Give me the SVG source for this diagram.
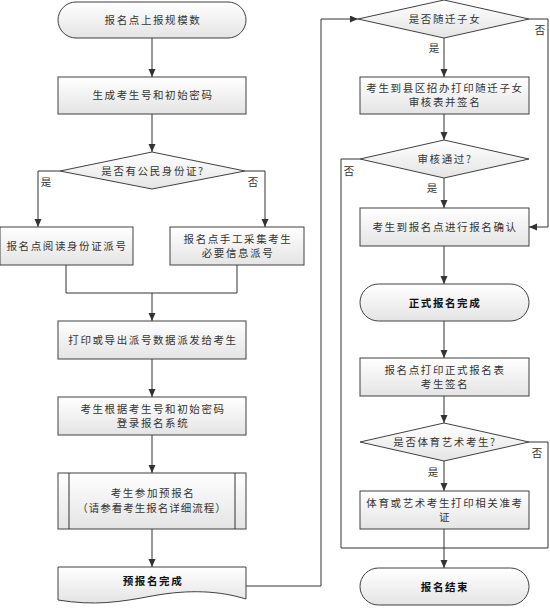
<svg xmlns="http://www.w3.org/2000/svg" width="550" height="608" viewBox="0 0 550 608">
<defs>
<linearGradient id="g" x1="0" y1="0" x2="0" y2="1">
<stop offset="0" stop-color="#ffffff"/>
<stop offset="1" stop-color="#e4e4e4"/>
</linearGradient>
<marker id="a" markerUnits="userSpaceOnUse" markerWidth="9" markerHeight="8" refX="8" refY="3.5" orient="auto">
<path d="M0,0 L8,3.5 L0,7 z" fill="#333"/>
</marker>
<style>
.n{fill:url(#g);stroke:#404040;stroke-width:1}
.c{fill:none;stroke:#333;stroke-width:1}
.ca{fill:none;stroke:#333;stroke-width:1;marker-end:url(#a)}
text{font-family:"Noto Sans CJK SC","Noto Sans",sans-serif;font-size:10.5px;fill:#333;letter-spacing:1.6px;text-anchor:middle}
.b{font-weight:bold;fill:#111}
.l{letter-spacing:0}
</style>
</defs>
<rect width="550" height="608" fill="#fff"/>
<g id="connectors">
<path class="ca" d="M152,38 V77"/>
<path class="ca" d="M152,114 V152"/>
<path class="ca" d="M60,171 H38 V227"/>
<path class="ca" d="M245,171 H265 V227"/>
<path class="c" d="M66,265 V293 H237 V265"/>
<path class="ca" d="M152,293 V321"/>
<path class="ca" d="M152,359 V397"/>
<path class="ca" d="M152,435 V473"/>
<path class="ca" d="M152,529 V567"/>
<path class="ca" d="M246,586 H321 V19 H358"/>
<path class="ca" d="M444,38 V77"/>
<path class="ca" d="M529,19 H548 V227 H529"/>
<path class="ca" d="M444,114 V140"/>
<path class="c" d="M360,159 H341 V548 H548 V442 H529"/>
<path class="ca" d="M444,178 V208"/>
<path class="ca" d="M444,246 V284"/>
<path class="ca" d="M444,321 V358"/>
<path class="ca" d="M444,396 V423"/>
<path class="ca" d="M444,461 V491"/>
<path class="ca" d="M444,529 V568"/>
</g>
<g id="labels">
<text class="l" x="46" y="186">是</text>
<text class="l" x="253" y="186">否</text>
<text class="l" x="540" y="34">否</text>
<text class="l" x="434" y="52">是</text>
<text class="l" x="349" y="175">否</text>
<text class="l" x="432" y="192">是</text>
<text class="l" x="537" y="457">否</text>
<text class="l" x="433" y="476">是</text>
</g>
<g id="n1"><rect class="n" x="58" y="2" width="188" height="36" rx="18"/><text x="153" y="24">报名点上报规模数</text></g>
<g id="n2"><rect class="n" x="58" y="77" width="188" height="37"/><text x="153" y="99">生成考生号和初始密码</text></g>
<g id="n3"><path class="n" d="M152,152 L245,171 L152,189 L60,171 z"/><text x="153" y="175">是否有公民身份证?</text></g>
<g id="n4"><rect class="n" x="0" y="227" width="133" height="38"/><text x="67" y="250">报名点阅读身份证派号</text></g>
<g id="n5"><rect class="n" x="170" y="227" width="134" height="38"/><text x="238" y="243">报名点手工采集考生</text><text x="238" y="257">必要信息派号</text></g>
<g id="n6"><rect class="n" x="58" y="321" width="188" height="38"/><text x="153" y="344">打印或导出派号数据派发给考生</text></g>
<g id="n7"><rect class="n" x="58" y="397" width="188" height="38"/><text x="153" y="413">考生根据考生号和初始密码</text><text x="153" y="427">登录报名系统</text></g>
<g id="n8"><rect class="n" x="58" y="473" width="188" height="56"/><path class="c" d="M69,473 V529 M235,473 V529"/><text x="153" y="497">考生参加预报名</text><text x="152" y="512" style="letter-spacing:1px">（请参看考生报名详细流程）</text></g>
<g id="n9"><path class="n" d="M58,567 H246 V599 C220,591 190,589 152,596 C120,602 95,606 58,600 z"/><text class="b" x="153" y="585">预报名完成</text></g>
<g id="n10"><path class="n" d="M444,0 L529,19 L444,38 L358,19 z"/><text x="445" y="23">是否随迁子女</text></g>
<g id="n11"><rect class="n" x="360" y="77" width="169" height="37"/><text x="445" y="92">考生到县区招办打印随迁子女</text><text x="445" y="106">审核表并签名</text></g>
<g id="n12"><path class="n" d="M444,140 L529,159 L444,178 L360,159 z"/><text x="445" y="163">审核通过?</text></g>
<g id="n13"><rect class="n" x="360" y="208" width="169" height="38"/><text x="445" y="231">考生到报名点进行报名确认</text></g>
<g id="n14"><rect class="n" x="360" y="284" width="169" height="37" rx="18.5"/><text class="b" x="445" y="307">正式报名完成</text></g>
<g id="n15"><rect class="n" x="360" y="358" width="169" height="38"/><text x="445" y="374">报名点打印正式报名表</text><text x="445" y="388">考生签名</text></g>
<g id="n16"><path class="n" d="M444,423 L529,442 L444,461 L360,442 z"/><text x="445" y="446">是否体育艺术考生?</text></g>
<g id="n17"><rect class="n" x="360" y="491" width="169" height="38"/><text x="445" y="507">体育或艺术考生打印相关准考</text><text x="445" y="521">证</text></g>
<g id="n18"><rect class="n" x="360" y="568" width="169" height="37" rx="18.5"/><text class="b" x="445" y="591">报名结束</text></g>
</svg>
